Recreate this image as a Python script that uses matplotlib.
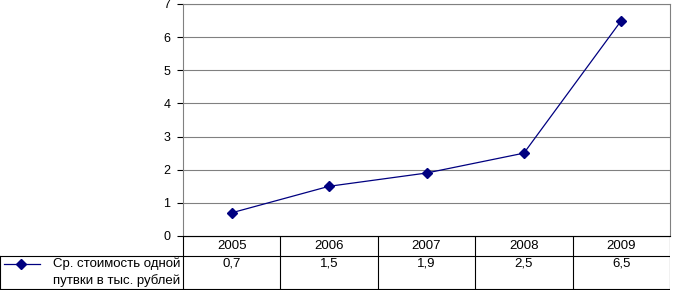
import matplotlib
matplotlib.use('Agg')
import matplotlib.pyplot as plt

years = ['2005', '2006', '2007', '2008', '2009']
values = [0.7, 1.5, 1.9, 2.5, 6.5]
value_labels = ['0,7', '1,5', '1,9', '2,5', '6,5']
series_name = ['Ср. стоимость одной', 'путвки в тыс. рублей']
yticks = [0, 1, 2, 3, 4, 5, 6, 7]

plt.rcParams['font.family'] = ['Liberation Sans', 'DejaVu Sans']
W, H = 673, 290
fig = plt.figure(figsize=(W / 100, H / 100), dpi=100)

left_px, right_px, top_px, bottom_px = 183, 670, 4, 236
ax = fig.add_axes([left_px / W, (H - bottom_px) / H,
                   (right_px - left_px) / W, (bottom_px - top_px) / H])
x = list(range(len(years)))
ax.plot(x, values, color='#000080', lw=0.9, marker='D', ms=5,
        markerfacecolor='#000080', markeredgecolor='#000080')
ax.set_xlim(-0.5, len(years) - 0.5)
ax.set_ylim(0, 7)
ax.set_yticks(yticks)
ax.set_yticklabels([str(t) for t in yticks], fontsize=9)
ax.set_xticks([])
ax.tick_params(axis='y', direction='out', length=4, width=0.8, pad=5, colors='black')
ax.grid(axis='y', color='#808080', lw=0.8)
for s in ['top', 'right', 'left']:
    ax.spines[s].set_color('#808080')
    ax.spines[s].set_linewidth(0.8)
ax.spines['bottom'].set_color('black')
ax.spines['bottom'].set_linewidth(0.8)

# data table under the chart
unit = (right_px - left_px) / len(years)
tx0 = -0.5 - left_px / unit
tab = fig.add_axes([0, 0, right_px / W, (H - bottom_px) / H])
tab.set_xlim(tx0, len(years) - 0.5)
tab.set_ylim(0, H - bottom_px)
tab.axis('off')
top_y = H - bottom_px
mid_y = top_y - 20
bot_y = 1
lc = 'black'
tab.plot([-0.5, len(years) - 0.5], [top_y, top_y], color=lc, lw=0.8)
tab.plot([tx0 + 0.005, len(years) - 0.5], [mid_y, mid_y], color=lc, lw=0.8)
tab.plot([tx0 + 0.005, len(years) - 0.5], [bot_y, bot_y], color=lc, lw=0.8)
tab.plot([tx0 + 0.005, tx0 + 0.005], [bot_y, mid_y], color=lc, lw=0.8)
for i in range(len(years) + 1):
    tab.plot([i - 0.5, i - 0.5], [bot_y, top_y], color=lc, lw=0.8)
for i, (yr, vl) in enumerate(zip(years, value_labels)):
    tab.text(i, top_y - 10, yr, ha='center', va='center', fontsize=9.5)
    tab.text(i, mid_y - 8, vl, ha='center', va='center', fontsize=9.5)

lx = tx0 + 4 / unit
tab.plot([lx, lx + 36 / unit], [mid_y - 8, mid_y - 8], color='#000080', lw=0.9)
tab.plot([lx + 17 / unit], [mid_y - 8], marker='D', ms=5, color='#000080')
tab.text(-0.5 - 3 / unit, mid_y - 8, series_name[0], ha='right', va='center', fontsize=9.5)
tab.text(-0.5 - 3 / unit, mid_y - 25, series_name[1], ha='right', va='center', fontsize=9.5)

fig.savefig('out.png', dpi=100)
